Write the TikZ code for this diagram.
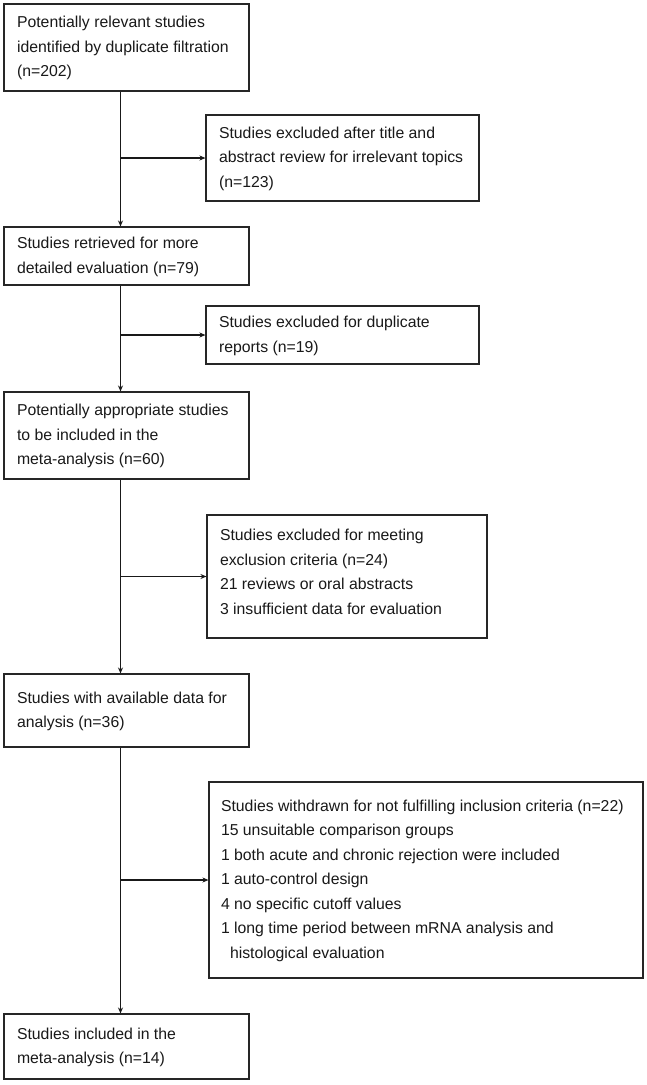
\documentclass[tikz,border=0pt]{standalone}
\usepackage{fontspec}
\setmainfont{Liberation Sans}
\usetikzlibrary{arrows.meta}
\newcommand\boxtext[2]{\makebox[#1][l]{\begin{tabular}{@{}l@{}}#2\end{tabular}}}
\begin{document}
\begin{tikzpicture}[x=1pt,y=-1pt,
  box/.style={draw=black!85, line width=1.1pt, inner xsep=13pt, inner ysep=0pt,
    anchor=center, text=black!90,
    font=\fontsize{15.8}{24.5}\selectfont},
  conn/.style={draw=black!90, line width=1.3pt, -{Stealth[length=6pt,width=5pt]}}]
\useasboundingbox (0,0) rectangle (646,1085);
\fill[white] (0,0) rectangle (646,1085);
% main boxes
\node[box, minimum width=245pt, minimum height=87pt] (b1) at (126.5,47.5)
  {\boxtext{219pt}{Potentially relevant studies\\identified by duplicate filtration\\(n=202)}};
\node[box, minimum width=273pt, minimum height=86pt] (b2) at (342.5,158)
  {\boxtext{247pt}{Studies excluded after title and\\abstract review for irrelevant topics\\(n=123)}};
\node[box, minimum width=245pt, minimum height=58pt] (b3) at (126.5,256)
  {\boxtext{219pt}{Studies retrieved for more\\detailed evaluation (n=79)}};
\node[box, minimum width=273pt, minimum height=58pt] (b4) at (342.5,335)
  {\boxtext{247pt}{Studies excluded for duplicate\\reports (n=19)}};
\node[box, minimum width=245pt, minimum height=87pt] (b5) at (126.5,435.5)
  {\boxtext{219pt}{Potentially appropriate studies\\to be included in the\\meta-analysis (n=60)}};
\node[box, minimum width=280pt, minimum height=123pt] (b6) at (347,576.5)
  {\boxtext{254pt}{Studies excluded for meeting\\exclusion criteria (n=24)\\21 reviews or oral abstracts\\3 insufficient data for evaluation\\[8pt]}};
\node[box, minimum width=245pt, minimum height=73pt] (b7) at (126.5,710.5)
  {\boxtext{219pt}{Studies with available data for\\analysis (n=36)}};
\node[box, minimum width=434pt, minimum height=196pt, inner xsep=12pt] (b8) at (426,880)
  {\boxtext{410pt}{Studies withdrawn for not fulfilling inclusion criteria (n=22)\\15 unsuitable comparison groups\\1 both acute and chronic rejection were included\\1 auto-control design\\4 no specific cutoff values\\1 long time period between mRNA analysis and\\\hspace*{9pt}histological evaluation}};
\node[box, minimum width=245pt, minimum height=65pt] (b9) at (126.5,1046.5)
  {\boxtext{219pt}{Studies included in the\\meta-analysis (n=14)}};
\coordinate (spine) at (120.5,0);
% main flow
\draw[conn] (b1.south -| spine) -- (b3.north -| spine);
\draw[conn] (b3.south -| spine) -- (b5.north -| spine);
\draw[conn] (b5.south -| spine) -- (b7.north -| spine);
\draw[conn] (b7.south -| spine) -- (b9.north -| spine);
% branches
\draw[conn] (b2.west -| spine) -- (b2.west);
\draw[conn] (b4.west -| spine) -- (b4.west);
\draw[conn] (b6.west -| spine) -- (b6.west);
\draw[conn] (b8.west -| spine) -- (b8.west);
\end{tikzpicture}
\end{document}
